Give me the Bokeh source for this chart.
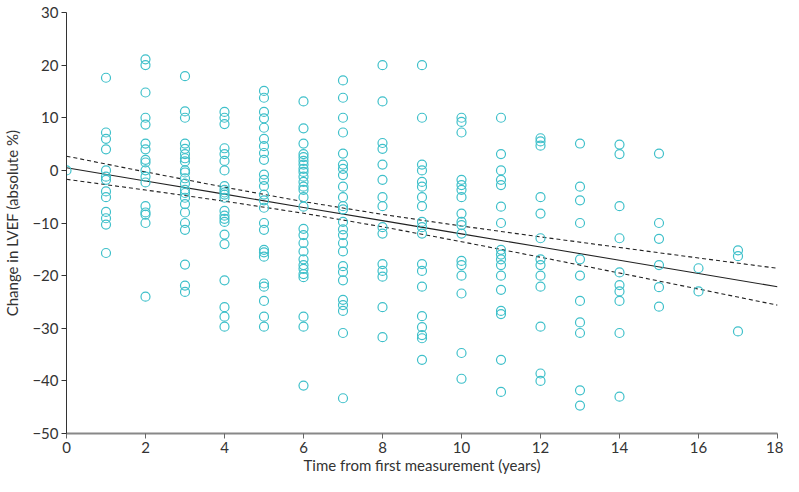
from bokeh.plotting import figure
from bokeh.embed import file_html
from bokeh.resources import INLINE
from bokeh.models import ColumnDataSource, FixedTicker

# ---- data ----
years = list(range(0, 18))
values_by_year = {
    0: [0],
    1: [17.6, 7.2, 6.0, 4.0, 0, -1.2, -1.8, -4.0, -5.1, -7.9, -9.1, -10.3, -15.7],
    2: [21.1, 20.0, 14.8, 10.0, 8.7, 5.1, 4.0, 2.0, 1.5, 0, -1.2, -2.3, -6.8, -8.0, -8.4, -10.0, -24.0],
    3: [17.9, 11.2, 10.0, 5.1, 4.1, 3.1, 2.3, 1.7, 0, -0.4, -1.5, -2.5, -3.7, -4.3, -5.2, -6.4, -8.0,
        -10.0, -11.3, -17.9, -21.9, -23.1],
    4: [11.1, 10.0, 8.8, 4.2, 3.1, 1.8, 0, -3.0, -3.7, -4.2, -4.6, -5.2, -7.7, -8.6, -9.2, -9.8, -12.2,
        -14.0, -20.9, -26.0, -27.8, -29.7],
    5: [15.1, 13.8, 11.1, 9.9, 8.1, 6.0, 4.6, 3.3, 2.0, -0.8, -1.8, -3.0, -4.6, -5.7, -7.1, -10.0, -11.3,
        -15.1, -15.6, -16.4, -21.5, -22.1, -24.8, -27.8, -29.7],
    6: [13.1, 8.0, 5.1, 3.1, 2.5, 1.8, 1.1, 0.3, -0.3, -1.2, -2.2, -3.1, -3.7, -5.1, -6.9, -11.1, -12.3,
        -13.8, -15.4, -16.9, -18.0, -18.7, -19.7, -20.3, -27.8, -29.7, -40.9],
    7: [17.1, 13.8, 10.0, 7.2, 3.2, 1.1, 0.3, -0.9, -3.1, -5.1, -6.8, -7.4, -9.8, -11.2, -12.3, -13.8,
        -15.4, -18.2, -19.3, -20.9, -24.6, -25.6, -26.7, -30.9, -43.3],
    8: [20.0, 13.1, 5.2, 4.1, 1.1, -1.8, -5.1, -6.8, -10.8, -12.0, -17.8, -19.1, -20.2, -26.0, -31.7],
    9: [20.0, 10.0, 1.1, 0, -2.2, -3.1, -5.1, -6.8, -9.8, -10.8, -12.0, -17.8, -19.1, -22.1, -27.7,
        -29.8, -31.3, -31.9, -36.0],
    10: [10.0, 9.2, 7.2, -1.8, -2.8, -3.7, -5.1, -8.2, -9.8, -10.4, -12.0, -17.2, -18.0, -20.0, -23.4,
         -34.7, -39.6],
    11: [10.0, 3.1, 0, -1.8, -2.8, -6.9, -10.0, -15.1, -16.0, -16.9, -18.0, -20.0, -22.7, -26.7, -27.3,
         -36.0, -42.1],
    12: [6.1, 5.5, 4.7, -5.1, -8.2, -12.9, -16.9, -18.0, -20.0, -22.1, -29.7, -38.6, -40.0],
    13: [5.1, -3.1, -5.7, -10.0, -16.9, -20.0, -24.8, -28.9, -30.9, -41.8, -44.7],
    14: [4.9, 3.1, -6.8, -12.9, -19.4, -21.8, -23.0, -24.8, -30.9, -43.0],
    15: [3.2, -10.0, -13.0, -18.0, -22.2, -25.9],
    16: [-18.6, -23.0],
    17: [-15.2, -16.3, -30.6],
}

# regression fit and 95% confidence band
fit_x = [0, 2, 4, 6, 8, 10, 12, 14, 16, 18]
fit_y = [0.5, -2.01, -4.52, -7.04, -9.55, -12.06, -14.57, -17.08, -19.6, -22.11]
ci_upper = [2.7, -0.29, -3.19, -5.93, -8.37, -10.57, -12.64, -14.65, -16.65, -18.61]
ci_lower = [-1.7, -3.73, -5.85, -8.15, -10.73, -13.55, -16.5, -19.51, -22.55, -25.61]

x_ticks = [0, 2, 4, 6, 8, 10, 12, 14, 16, 18]
y_ticks = [30, 20, 10, 0, -10, -20, -30, -40, -50]

pts_x, pts_y = [], []
for yr in years:
    for v in values_by_year[yr]:
        pts_x.append(yr)
        pts_y.append(v)
src = ColumnDataSource(dict(x=pts_x, y=pts_y))

FONT = "Lato"
TXT = "#333333"

p = figure(width=783, height=476, output_backend="svg", toolbar_location=None,
           x_range=(0, 18), y_range=(-50, 30),
           min_border_left=55, min_border_right=6, min_border_top=12, min_border_bottom=0)
p.outline_line_color = None
p.grid.visible = False
p.background_fill_color = "white"

p.line(fit_x, fit_y, line_color="#222222", line_width=1.1)
p.line(fit_x, ci_upper, line_color="#222222", line_width=1.1, line_dash="4 3")
p.line(fit_x, ci_lower, line_color="#222222", line_width=1.1, line_dash="4 3")

p.scatter("x", "y", source=src, marker="circle", size=9, fill_color=None,
          line_color="#3fc0ca", line_width=1.2)

p.xaxis.ticker = FixedTicker(ticks=x_ticks)
p.yaxis.ticker = FixedTicker(ticks=y_ticks)
p.xaxis.axis_label = "Time from first measurement (years)"
p.yaxis.axis_label = "Change in LVEF (absolute %)"

for ax in (p.xaxis, p.yaxis):
    ax.axis_label_text_font = FONT
    ax.axis_label_text_font_size = "15px"
    ax.axis_label_text_font_style = "normal"
    ax.axis_label_text_color = TXT
    ax.major_label_text_font = FONT
    ax.major_label_text_font_size = "15px"
    ax.major_label_text_color = TXT
    ax.minor_tick_line_color = None
    ax.major_tick_in = 0
    ax.major_tick_out = 5

p.xaxis.axis_line_color = "#888888"
p.xaxis.major_tick_line_color = "#666666"
p.xaxis.axis_line_width = 2
p.yaxis.axis_line_color = "#333333"
p.yaxis.major_tick_line_color = "#333333"
p.xaxis.major_label_standoff = 3
p.xaxis.axis_label_standoff = 0
p.yaxis.major_label_standoff = 3
p.yaxis.axis_label_standoff = 8

open("out.html", "w").write(file_html(p, INLINE))
